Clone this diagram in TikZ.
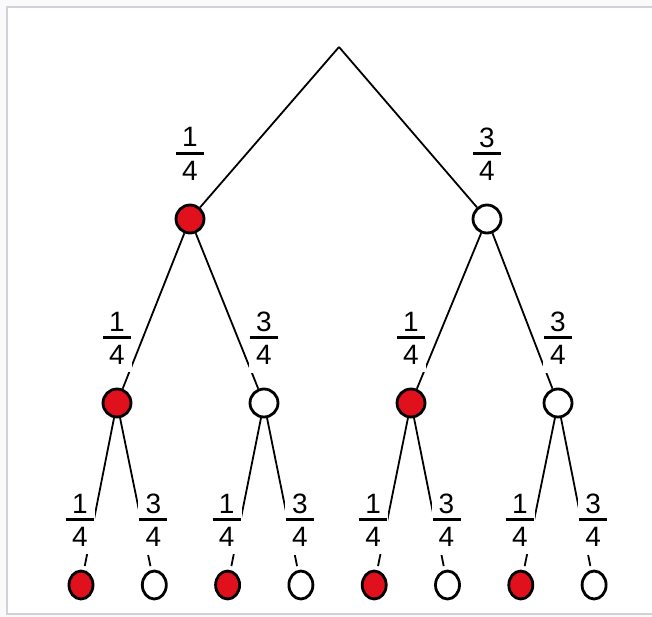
\documentclass[tikz,border=0pt]{standalone}
\usepackage{fontspec}
\setmainfont{Liberation Sans}
\usetikzlibrary{shapes.geometric}
\definecolor{ballred}{RGB}{224,16,28}
\definecolor{framegray}{RGB}{208,210,218}
\newcommand{\dotsize}{28pt}
\newcommand{\prob}[2]{\vbox{\hbox to 28pt{\hss#1\hss}\kern5pt\hrule height 3pt\kern6pt\hbox to 28pt{\hss#2\hss}}}

\begin{document}
\begin{tikzpicture}[x=1pt,y=-1pt,
    ball/.style={draw, circle, line width=2.8pt, minimum size=\dotsize, inner sep=0pt},
    leaf/.style={draw, ellipse, line width=2.8pt, minimum width=24pt, minimum height=28pt, inner sep=0pt},
    edge/.style={line width=1.8pt},
    prob/.style={fill=white, inner xsep=1pt, inner ysep=8pt, font=\fontsize{28}{30}\selectfont}]
        \useasboundingbox (0,0) rectangle (652,617);
        \fill[gray!4] (0,0) rectangle (652,617);
        \fill[white] (7,7) rectangle (652,614);
        \draw[framegray, line width=2pt] (652,7) -- (7,7) -- (7,614) -- (652,614);

        \coordinate (top) at (339,47);
        \node (a1) at (190,219) [ball, fill=ballred] {};
        \node (a2) at (487,219) [ball, fill=white] {};
        \foreach \i/\x/\c in {1/117/ballred,2/264/white,3/411/ballred,4/558/white}
                 \node (b\i) at (\x,403) [ball, fill=\c] {};
        \foreach \j/\c in {1/ballred,2/white,3/ballred,4/white,5/ballred,6/white,7/ballred,8/white}
                 \node (c\j) at (81+73.3*\j-73.3,585) [leaf, fill=\c] {};

        \foreach \i in {1,2}
                 \draw[edge] (top) to (a\i);
        \foreach \i/\p in {1/1,2/1,3/2,4/2}
                 \draw[edge] (a\p) to (b\i);
        \foreach \j/\p in {1/1,2/1,3/2,4/2,5/3,6/3,7/4,8/4}
                 \draw[edge, shorten >=4pt] (b\p) to (c\j);

        % branch probabilities, white boxes cut the lines below them
        \node[prob] (pa1) at ([yshift=65pt]a1.center) {\prob{1}{4}};
        \node[prob] (pa2) at ([yshift=65pt]a2.center) {\prob{3}{4}};
        \foreach \i/\n in {1/1,2/3,3/1,4/3}
                 \node[prob] (pb\i) at ([yshift=65pt]b\i.center) {\prob{\n}{4}};
        \foreach \j/\n in {1/1,2/3,3/1,4/3,5/1,6/3,7/1,8/3}
                 \node[prob] (pc\j) at ([xshift=-1pt,yshift=65pt]c\j.center) {\prob{\n}{4}};
      \end{tikzpicture}
\end{document}
